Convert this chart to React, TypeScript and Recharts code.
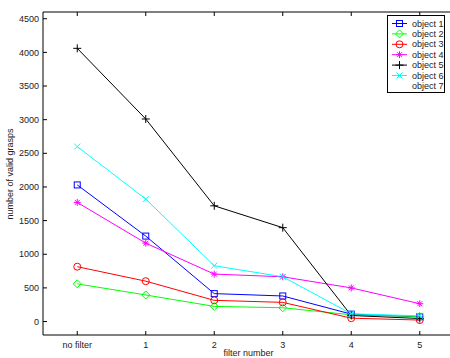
import {
    LineChart,
    Line,
    XAxis,
    YAxis,
    Label,
    ReferenceLine,
} from "recharts";

const filters = ["no filter", "1", "2", "3", "4", "5"];
const yTicks = [0, 500, 1000, 1500, 2000, 2500, 3000, 3500, 4000, 4500];

const object1 = [2030, 1270, 415, 380, 110, 70];
const object2 = [560, 395, 225, 205, 100, 75];
const object3 = [815, 600, 315, 285, 50, 22];
const object4 = [1770, 1165, 705, 665, 500, 265];
const object5 = [4060, 3010, 1720, 1395, 90, 45];
const object6 = [2600, 1820, 830, 665, 115, 85];

const series = [
    { key: "o1", name: "object 1", color: "#0000ff", marker: "square", values: object1 },
    { key: "o2", name: "object 2", color: "#00ff00", marker: "diamond", values: object2 },
    { key: "o3", name: "object 3", color: "#ff0000", marker: "circle", values: object3 },
    { key: "o4", name: "object 4", color: "#ff00ff", marker: "star", values: object4 },
    { key: "o5", name: "object 5", color: "#000000", marker: "plus", values: object5 },
    { key: "o6", name: "object 6", color: "#00ffff", marker: "x", values: object6 },
    { key: "o7", name: "object 7", color: "none", marker: "none", values: [] as number[] },
];

const data = filters.map((f, i) => {
    const row: Record<string, number | string> = { x: i, label: f };
    series.forEach((s) => {
        if (s.values.length) row[s.key] = s.values[i];
    });
    return row;
});

const FONT = "'Liberation Sans', Arial, Helvetica, sans-serif";
const PLOT_LEFT = 43;
const PLOT_RIGHT = 454;
const PLOT_TOP = 12;
const PLOT_BOTTOM = 335;
const CHART_H = 364;
const TICK = 4;

function Marker({ type, cx, cy, color }: { type: string; cx: number; cy: number; color: string }) {
    const p = { stroke: color, strokeWidth: 1, fill: "none" };
    if (type === "square") return <rect x={cx - 3} y={cy - 3} width={6} height={6} {...p} />;
    if (type === "diamond")
        return <path d={`M${cx},${cy - 4}L${cx + 4},${cy}L${cx},${cy + 4}L${cx - 4},${cy}Z`} {...p} />;
    if (type === "circle") return <circle cx={cx} cy={cy} r={3.5} {...p} />;
    if (type === "plus")
        return <path d={`M${cx - 4},${cy}H${cx + 4}M${cx},${cy - 4}V${cy + 4}`} {...p} />;
    if (type === "x")
        return <path d={`M${cx - 3},${cy - 3}L${cx + 3},${cy + 3}M${cx - 3},${cy + 3}L${cx + 3},${cy - 3}`} {...p} />;
    if (type === "star")
        return (
            <path
                d={`M${cx - 3.5},${cy}H${cx + 3.5}M${cx},${cy - 3.5}V${cy + 3.5}M${cx - 2.5},${cy - 2.5}L${cx + 2.5},${cy + 2.5}M${cx - 2.5},${cy + 2.5}L${cx + 2.5},${cy - 2.5}`}
                {...p}
            />
        );
    return null;
}

const XTick = (props: any) => {
    const { x, payload } = props;
    return (
        <g>
            <line x1={x} x2={x} y1={PLOT_BOTTOM} y2={PLOT_BOTTOM - TICK} stroke="#000" />
            <line x1={x} x2={x} y1={PLOT_TOP} y2={PLOT_TOP + TICK} stroke="#000" />
            <text x={x} y={348} textAnchor="middle" fontSize={9} fontFamily={FONT} fill="#222">
                {filters[payload.value]}
            </text>
        </g>
    );
};

const YTick = (props: any) => {
    const { y, payload } = props;
    return (
        <g>
            <line x1={PLOT_LEFT} x2={PLOT_LEFT + TICK} y1={y} y2={y} stroke="#000" />
            <line x1={PLOT_RIGHT} x2={PLOT_RIGHT - TICK} y1={y} y2={y} stroke="#000" />
            <text x={PLOT_LEFT - 4} y={y} dy="0.35em" textAnchor="end" fontSize={9} fontFamily={FONT} fill="#222">
                {payload.value}
            </text>
        </g>
    );
};

const LegendBox = () => (
    <svg width={58} height={78} style={{ position: "absolute", left: 387, top: 15, display: "block" }}>
        <rect x={0.5} y={0.5} width={57} height={77} fill="#fff" stroke="#000" />
        {series.map((s, i) => {
            const cy = 8.5 + i * 10.4;
            return (
                <g key={s.key}>
                    {s.values.length > 0 && (
                        <>
                            <line x1={5} x2={20} y1={cy} y2={cy} stroke={s.color} />
                            <Marker type={s.marker} cx={12.5} cy={cy} color={s.color} />
                        </>
                    )}
                    <text x={25} y={cy} dy="0.35em" fontSize={9} fontFamily={FONT} fill="#222">
                        {s.name}
                    </text>
                </g>
            );
        })}
    </svg>
);

export default function App() {
    return (
        <div
            style={{
                position: "absolute",
                left: 0,
                top: 0,
                width: 450,
                height: 358,
                overflow: "hidden",
                background: "#fff",
            }}
        >
            <LineChart
                width={470}
                height={CHART_H}
                data={data}
                margin={{ top: PLOT_TOP, right: 470 - PLOT_RIGHT, left: 0, bottom: 0 }}
            >
                <XAxis
                    dataKey="x"
                    type="number"
                    domain={[-0.5, 5.5]}
                    ticks={[0, 1, 2, 3, 4, 5]}
                    height={CHART_H - PLOT_BOTTOM}
                    tickSize={0}
                    tickLine={false}
                    tick={<XTick />}
                    axisLine={{ stroke: "#000" }}
                    allowDataOverflow
                >
                    <Label
                        content={() => (
                            <text
                                x={(PLOT_LEFT + PLOT_RIGHT) / 2}
                                y={356}
                                textAnchor="middle"
                                fontSize={9}
                                fontFamily={FONT}
                                fill="#222"
                            >
                                filter number
                            </text>
                        )}
                    />
                </XAxis>
                <YAxis
                    type="number"
                    domain={[-200, 4600]}
                    ticks={yTicks}
                    width={PLOT_LEFT}
                    tickSize={0}
                    tickLine={false}
                    tick={<YTick />}
                    axisLine={{ stroke: "#000" }}
                    allowDataOverflow
                >
                    <Label
                        content={() => (
                            <text
                                x={10}
                                y={174}
                                transform="rotate(-90 10 174)"
                                textAnchor="middle"
                                dy="0.35em"
                                fontSize={9}
                                fontFamily={FONT}
                                fill="#222"
                            >
                                number of valid grasps
                            </text>
                        )}
                    />
                </YAxis>
                <ReferenceLine y={4600} stroke="#000" />
                <ReferenceLine x={5.5} stroke="#000" />
                {series
                    .filter((s) => s.values.length > 0)
                    .map((s) => (
                        <Line
                            key={s.key}
                            dataKey={s.key}
                            name={s.name}
                            stroke={s.color}
                            strokeWidth={1}
                            type="linear"
                            isAnimationActive={false}
                            dot={(p: any) => (
                                <Marker key={`${s.key}-${p.index}`} type={s.marker} cx={p.cx} cy={p.cy} color={s.color} />
                            )}
                            activeDot={false}
                        />
                    ))}
            </LineChart>
            <LegendBox />
        </div>
    );
}
